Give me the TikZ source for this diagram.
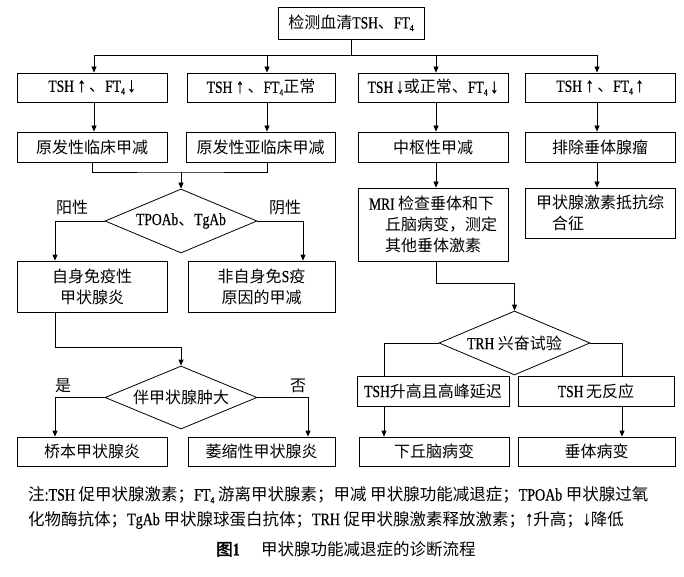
\documentclass[tikz,border=0pt]{standalone}
\usepackage{fontspec}
\setmainfont{Noto Sans CJK SC}[AutoFakeBold=2]
\newfontfamily\la[Scale=1.06,FakeStretch=0.8,FakeBold=0.6]{Liberation Serif}
\usetikzlibrary{arrows.meta,shapes.geometric,calc}
\newcommand\ftf{{\la FT\raisebox{-0.35ex}{\fontsize{9}{9}\selectfont 4}}}
\newcommand\upa{{\la\fontsize{19}{19}\selectfont ↑}}
\newcommand\dna{{\la\fontsize{19}{19}\selectfont ↓}}
\tikzset{
  base/.style={font=\fontsize{16}{21}\selectfont},
  box/.style={base, draw, rectangle, inner sep=1pt, align=center, line width=0.8pt},
  dia/.style={draw, diamond, inner sep=0pt, line width=0.8pt},
  lbl/.style={base, inner sep=0pt},
  note/.style={font=\fontsize{16.5}{21}\selectfont, inner sep=0pt, anchor=west},
  arr/.style={-{Triangle[length=6pt,width=5pt]}},
  conn/.style={line width=0.8pt}
}
\begin{document}
\begin{tikzpicture}[x=1pt,y=-1pt]
\useasboundingbox (0,0) rectangle (684,577);
% nodes
\node[box, minimum width=146pt, minimum height=32pt] (top) at (351,23) {检测血清{\la TSH}、\ftf};
\node[box, minimum width=150pt, minimum height=29pt] (b1) at (92,87.5) {{\la TSH} \upa\ 、\ftf\,\dna};
\node[box, minimum width=148pt, minimum height=29pt] (b2) at (261,87.5) {{\la TSH} \upa\ 、\ftf 正常};
\node[box, minimum width=150pt, minimum height=29pt] (b3) at (433,87.5) {{\la TSH}\,\dna 或正常、\ftf\,\dna};
\node[box, minimum width=150pt, minimum height=29pt] (b4) at (600,87.5) {{\la TSH} \upa\ 、\ftf\,\upa};
\node[box, minimum width=150pt, minimum height=30pt] (c1) at (92,147) {原发性临床甲减};
\node[box, minimum width=149pt, minimum height=30pt] (c2) at (260.5,147) {原发性亚临床甲减};
\node[box, minimum width=150pt, minimum height=30pt] (c3) at (433,147) {中枢性甲减};
\node[box, minimum width=150pt, minimum height=30pt] (c4) at (600,147) {排除垂体腺瘤};
\node[box, align=left, minimum width=150pt, minimum height=73pt] (mri) at (433,224.5) {{\la MRI} 检查垂体和下\\\hspace*{1em}丘脑病变，测定\\\hspace*{1em}其他垂体激素};
\node[box, align=left, minimum width=150pt, minimum height=50pt] (res) at (600,213) {甲状腺激素抵抗综\\\hspace*{1em}合征};
\node[dia, minimum width=152pt, minimum height=64pt, label={[lbl]center:{\la TPOAb}、{\la TgAb}}] (d1) at (181,221) {};
\node[box, minimum width=150pt, minimum height=51pt] (e1) at (92,286.5) {自身免疫性\\甲状腺炎};
\node[box, minimum width=147pt, minimum height=51pt] (e2) at (261.5,286.5) {非自身免{\la S}疫\\原因的甲减};
\node[dia, minimum width=152pt, minimum height=63pt, label={[lbl]center:伴甲状腺肿大}] (d2) at (181,397.5) {};
\node[box, minimum width=150pt, minimum height=29pt] (f1) at (92,451.5) {桥本甲状腺炎};
\node[box, minimum width=147pt, minimum height=29pt] (f2) at (261.5,451.5) {萎缩性甲状腺炎};
\node[dia, minimum width=151pt, minimum height=64pt, label={[lbl]center:{\la TRH} 兴奋试验}] (d3) at (514.5,343) {};
\node[box, minimum width=152pt, minimum height=30pt] (g1) at (433,391) {{\la TSH}升高且高峰延迟};
\node[box, minimum width=156pt, minimum height=30pt] (g2) at (596,391) {{\la TSH}\,无反应};
\node[box, minimum width=150pt, minimum height=29pt] (h1) at (434,451.5) {下丘脑病变};
\node[box, minimum width=157pt, minimum height=29pt] (h2) at (596.5,451.5) {垂体病变};
% branch labels
\node[lbl] (yang) at (72,207) {阳性};
\node[lbl] (yin) at (285,207) {阴性};
\node[lbl] (shi) at (63,386) {是};
\node[lbl] (fou) at (298,386) {否};
% notes
\node[note] (n1) at (28,495) {注{\la :}{\la TSH} 促甲状腺激素；\ftf\ 游离甲状腺素；甲减 甲状腺功能减退症；{\la TPOAb} 甲状腺过氧};
\node[note] (n2) at (28,520) {化物酶抗体；{\la TgAb} 甲状腺球蛋白抗体；{\la TRH} 促甲状腺激素释放激素；\upa 升高；\dna 降低};
\node[lbl, font=\fontsize{16.5}{21}\selectfont] (cap) at (346,549) {{\bfseries 图{\la 1}}\hspace{1.3em}甲状腺功能减退症的诊断流程};
% helper coordinates
\coordinate (X1) at (94,0);
\coordinate (X2) at (267,0);
\coordinate (X3) at (436,0);
\coordinate (X4) at (597,0);
\coordinate (L1) at (55,0);
\coordinate (R1) at (303,0);
\coordinate (R2) at (308,0);
\coordinate (L3) at (384,0);
\coordinate (R3) at (622,0);
\coordinate (split) at (351,55);
\coordinate (mrg1) at (181,172);
\coordinate (mrg2) at (181,347);
\coordinate (mrg3) at (514.5,283);
% connectors
\draw[conn] (top.south) -- (split);
\draw[conn,arr] (split) -| (b1.north -| X1);
\draw[conn,arr] (split) -| (b2.north -| X2);
\draw[conn,arr] (split) -| (b3.north -| X3);
\draw[conn,arr] (split) -| (b4.north -| X4);
\draw[conn,arr] (b1.south -| X1) -- (c1.north -| X1);
\draw[conn,arr] (b2.south -| X2) -- (c2.north -| X2);
\draw[conn,arr] (b3.south -| X3) -- (c3.north -| X3);
\draw[conn,arr] (b4.south -| X4) -- (c4.north -| X4);
\draw[conn,arr] (c3.south -| X3) -- (mri.north -| X3);
\draw[conn,arr] (c4.south -| X4) -- (res.north -| X4);
\draw[conn] (c1.south) |- (mrg1) -| (c2.south -| X2);
\draw[conn,arr] (mrg1) -- (d1.north);
\draw[conn,arr] (d1.west) -| (e1.north -| L1);
\draw[conn,arr] (d1.east) -| (e2.north -| R1);
\draw[conn,arr] (e1.south -| L1) |- (mrg2) -- (d2.north);
\draw[conn,arr] (d2.west) -| (f1.north -| L1);
\draw[conn,arr] (d2.east) -| (f2.north -| R2);
\draw[conn,arr] (mri.south -| X3) |- (mrg3) -- (d3.north);
\draw[conn] (d3.west) -| (g1.north -| L3);
\draw[conn] (d3.east) -| (g2.north -| R3);
\draw[conn,arr] (g1.south -| L3) -- (h1.north -| L3);
\draw[conn,arr] (g2.south -| R3) -- (h2.north -| R3);
\end{tikzpicture}
\end{document}
